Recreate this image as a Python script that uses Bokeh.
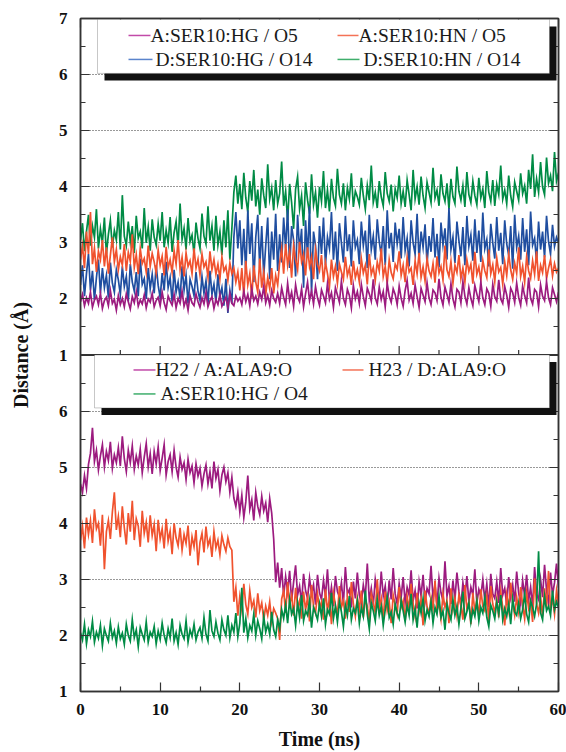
import numpy as np
from bokeh.plotting import figure
from bokeh.models import (Range1d, LinearAxis, FixedTicker, BoxAnnotation, Span,
                          Label, ColumnDataSource, CustomJSTickFormatter)
from bokeh.transform import dodge
from bokeh.embed import file_html
from bokeh.resources import INLINE

# ---------------- data (Å), sampled every 0.25 ns from 0 to 60 ns ----------------
time_ns = np.arange(241) * 0.25

# top panel
a_ser10_hg_o5 = [
    1.95, 2.08, 1.88, 2.02, 1.92, 2.12, 1.85, 1.98, 2.05, 1.90, 2.10, 1.83, 1.97, 2.03, 1.88, 2.15, 1.92, 1.99, 1.80, 2.06,
    1.90, 2.01, 1.86, 2.09, 1.95, 1.82, 2.04, 1.93, 2.13, 1.87, 1.98, 1.91, 2.07, 1.84, 2.00, 1.94, 2.10, 1.86, 1.97, 2.03,
    1.88, 2.12, 1.93, 1.81, 2.05, 1.96, 1.89, 2.08, 1.84, 2.01, 1.92, 2.14, 1.87, 1.99, 1.80, 2.06, 1.93, 1.88, 2.09, 1.95,
    1.85, 2.02, 1.91, 2.11, 1.86, 1.97, 2.04, 1.83, 1.99, 1.90, 2.08, 1.87, 1.95, 2.03, 1.84, 2.10, 1.92, 1.88, 2.05, 1.96,
    2.02, 1.90, 2.14, 1.95, 2.08, 1.88, 2.18, 1.97, 2.05, 1.91, 2.12, 1.99, 2.22, 1.93, 2.06, 1.89, 2.15, 2.01, 1.94, 2.10,
    1.92, 2.20, 2.03, 1.90, 2.28, 1.98, 2.12, 1.87, 2.25, 2.04, 1.95, 2.18, 1.86, 2.09, 2.30, 1.97, 2.14, 1.91, 2.22, 2.02,
    1.89, 2.16, 2.05, 1.93, 2.27, 1.99, 2.11, 1.85, 2.20, 2.07, 1.94, 2.32, 2.01, 1.90, 2.17, 2.06, 1.84, 2.24, 2.00, 2.13,
    1.92, 2.26, 2.04, 1.88, 2.19, 2.09, 1.96, 2.35, 2.02, 1.91, 2.21, 1.99, 2.13, 1.86, 2.28, 2.05, 1.94, 2.18, 2.08, 1.90,
    2.23, 2.01, 1.87, 2.15, 2.33, 1.98, 2.10, 1.92, 2.25, 2.04, 1.85, 2.19, 2.07, 1.95, 2.29, 2.02, 1.90, 2.16, 2.11, 1.97,
    2.36, 2.03, 1.89, 2.21, 2.08, 1.94, 2.27, 2.00, 1.86, 2.17, 2.12, 1.93, 2.31, 2.05, 1.91, 2.20, 2.01, 1.88, 2.24, 2.09,
    1.95, 2.30, 2.02, 1.90, 2.18, 2.10, 1.87, 2.26, 2.04, 1.96, 2.34, 2.00, 1.92, 2.22, 2.07, 1.85, 2.19, 2.11, 1.94, 2.28,
    2.03, 1.89, 2.23, 2.06, 1.93, 2.38, 2.01, 1.91, 2.17, 2.12, 1.86, 2.25, 2.05, 1.97, 2.31, 2.02, 1.90, 2.20, 2.08, 1.95,
    2.12]

a_ser10_hn_o5 = [
    2.70, 2.95, 2.55, 3.20, 2.80, 3.55, 2.62, 2.90, 2.48, 2.85, 2.70, 3.05, 2.58, 2.92, 2.45, 2.78, 3.10, 2.66, 2.88, 2.52,
    2.75, 2.60, 2.98, 2.50, 2.83, 2.67, 3.15, 2.56, 2.79, 2.44, 2.90, 2.63, 2.72, 2.48, 2.95, 2.58, 2.81, 2.66, 2.46, 2.87,
    2.60, 2.76, 2.42, 2.93, 2.55, 2.70, 2.47, 2.86, 2.62, 3.05, 2.52, 2.74, 2.40, 2.82, 2.58, 2.68, 2.45, 2.90, 2.55, 2.71,
    2.43, 2.80, 2.57, 2.66, 2.39, 2.85, 2.52, 2.70, 2.44, 2.62, 2.36, 2.75, 2.50, 2.58, 2.33, 2.64, 2.45, 2.55, 2.30, 2.48,
    2.15, 2.55, 2.05, 2.68, 2.25, 2.45, 2.02, 2.60, 2.30, 2.12, 2.72, 2.20, 2.48, 2.08, 2.38, 2.18, 2.55, 2.10, 2.42, 2.25,
    2.65, 2.90, 2.45, 2.98, 2.60, 2.85, 2.38, 2.95, 2.70, 2.52, 3.02, 2.66, 2.80, 2.42, 2.92, 2.58, 2.75, 2.35, 2.88, 2.62,
    2.50, 2.78, 2.30, 2.65, 2.45, 2.22, 2.70, 2.40, 2.58, 2.28, 2.62, 2.48, 2.35, 2.75, 2.42, 2.55, 2.25, 2.68, 2.38, 2.52,
    2.30, 2.72, 2.46, 2.60, 2.26, 2.80, 2.44, 2.56, 2.33, 2.66, 2.50, 2.90, 2.40, 2.58, 2.28, 2.70, 2.47, 2.36, 2.62, 2.53,
    2.85, 2.42, 2.60, 2.30, 2.74, 2.48, 2.55, 2.25, 2.68, 2.45, 2.82, 2.38, 2.57, 2.32, 2.72, 2.50, 2.40, 2.63, 2.29, 2.76,
    2.46, 2.58, 2.34, 2.95, 2.52, 2.40, 2.67, 2.28, 2.60, 2.47, 2.78, 2.36, 2.55, 2.30, 2.70, 2.49, 2.62, 2.27, 2.84, 2.44,
    2.57, 2.33, 2.69, 2.50, 2.38, 2.88, 2.45, 2.61, 2.31, 2.73, 2.48, 2.56, 2.26, 2.66, 2.42, 2.80, 2.52, 2.35, 2.64, 2.46,
    2.92, 2.40, 2.58, 2.30, 2.75, 2.50, 2.37, 2.68, 2.44, 2.85, 2.32, 2.60, 2.47, 2.78, 2.36, 2.55, 2.70, 2.41, 2.63, 2.48,
    2.55]

d_ser10_hg_o14 = [
    2.25, 2.60, 2.05, 2.45, 2.80, 2.15, 2.50, 1.98, 2.38, 2.70, 2.10, 2.55, 2.20, 2.42, 2.02, 2.65, 2.28, 2.12, 2.52, 2.34,
    2.08, 2.58, 2.22, 2.40, 1.96, 2.62, 2.30, 2.14, 2.48, 2.05, 2.72, 2.26, 2.36, 2.00, 2.55, 2.18, 2.44, 2.10, 2.60, 2.24,
    2.02, 2.46, 2.15, 2.66, 2.20, 2.38, 1.95, 2.52, 2.12, 2.30, 2.00, 2.58, 2.16, 2.42, 1.92, 2.35, 2.22, 2.06, 2.48, 2.14,
    1.98, 2.40, 2.10, 2.32, 1.90, 2.50, 2.08, 2.26, 1.94, 2.44, 2.04, 2.20, 1.88, 2.36, 1.75, 2.15, 1.92, 3.10, 3.55, 2.90,
    3.40, 2.60, 3.25, 2.45, 3.58, 2.80, 3.35, 2.30, 3.10, 3.50, 2.55, 3.30, 2.40, 2.95, 3.45, 2.35, 3.20, 2.70, 3.52, 2.50,
    3.15, 2.65, 3.45, 2.90, 3.60, 2.55, 3.30, 3.05, 2.40, 3.50, 2.85, 3.25, 2.20, 3.40, 2.75, 3.65, 2.10, 3.20, 2.95, 2.35,
    3.30, 2.80, 3.45, 2.60, 3.10, 2.90, 3.55, 2.70, 3.20, 2.50, 3.35, 3.00, 2.65, 3.48, 2.85, 3.15, 2.58, 3.40, 2.92, 3.05,
    2.62, 3.38, 2.95, 3.22, 2.55, 3.50, 2.88, 3.12, 2.70, 3.42, 3.02, 2.78, 3.30, 2.60, 3.58, 2.90, 3.18, 2.66, 3.36, 2.98,
    3.25, 2.72, 3.46, 2.86, 3.08, 2.58, 3.40, 3.00, 2.80, 3.52, 2.68, 3.20, 2.92, 3.33, 2.62, 3.12, 2.84, 3.44, 2.74, 3.16,
    2.56, 3.36, 2.96, 3.26, 2.70, 3.62, 2.88, 3.10, 2.64, 3.38, 3.04, 2.76, 3.28, 2.60, 3.48, 2.94, 3.14, 2.68, 3.42, 2.82,
    3.22, 2.66, 3.54, 2.90, 3.06, 2.58, 3.34, 3.00, 2.72, 3.46, 2.86, 3.18, 2.62, 3.40, 2.98, 2.78, 3.30, 2.54, 3.50, 2.92,
    3.12, 2.70, 3.44, 2.84, 3.24, 2.60, 3.56, 2.96, 3.08, 2.66, 3.38, 2.88, 3.20, 2.74, 3.48, 3.02, 2.80, 3.32, 2.94, 3.10,
    3.00]

d_ser10_hn_o14 = [
    3.05, 3.35, 2.85, 3.20, 3.50, 2.95, 3.30, 3.10, 3.60, 2.90, 3.25, 3.00, 3.45, 2.80, 3.15, 3.40, 2.92, 3.22, 3.05, 3.55,
    2.88, 3.85, 3.12, 2.95, 3.38, 3.02, 3.30, 2.82, 3.48, 3.08, 3.20, 2.90, 3.62, 3.00, 3.28, 2.86, 3.42, 3.10, 2.96, 3.34,
    3.04, 3.55, 2.92, 3.22, 3.00, 3.46, 2.84, 3.18, 3.38, 2.94, 3.70, 3.06, 3.26, 2.88, 3.44, 3.02, 3.14, 2.80, 3.36, 3.08,
    2.90, 3.52, 3.12, 2.98, 3.65, 3.04, 3.30, 2.86, 3.48, 2.96, 3.20, 2.78, 3.40, 2.92, 3.58, 2.70, 3.25, 3.90, 4.20, 3.70,
    4.05, 3.60, 4.25, 3.80, 3.55, 4.10, 3.75, 4.30, 3.65, 3.95, 3.50, 4.15, 3.85, 3.62, 4.40, 3.78, 3.98, 3.58, 4.12, 3.70,
    3.88, 4.45, 3.66, 3.92, 3.40, 4.05, 3.72, 3.25, 3.96, 4.18, 3.60, 3.84, 3.30, 4.08, 3.76, 3.52, 4.22, 3.68, 3.90, 3.45,
    4.00, 3.74, 4.28, 3.62, 3.94, 3.56, 4.14, 3.80, 3.66, 4.32, 3.86, 3.70, 4.06, 3.58, 3.98, 3.78, 4.24, 3.64, 3.92, 3.82,
    3.68, 4.16, 3.84, 3.60, 4.02, 3.76, 4.38, 3.72, 3.90, 3.62, 4.10, 3.82, 3.66, 4.26, 3.88, 3.74, 4.04, 3.56, 3.96, 3.80,
    4.20, 3.70, 3.92, 3.64, 4.12, 3.86, 3.58, 4.30, 3.78, 4.00, 3.68, 4.18, 3.84, 3.62, 4.08, 3.90, 3.72, 4.34, 3.80, 3.94,
    3.66, 4.22, 3.88, 3.74, 4.06, 3.60, 4.14, 3.82, 3.70, 4.36, 3.92, 3.76, 4.02, 3.64, 4.26, 3.86, 3.72, 4.10, 3.84, 3.68,
    4.16, 3.80, 3.96, 3.62, 4.28, 3.90, 3.74, 4.12, 3.66, 4.04, 3.86, 4.38, 3.78, 3.94, 3.70, 4.20, 3.84, 3.64, 4.08, 3.92,
    3.76, 4.24, 3.88, 4.02, 3.70, 4.30, 3.96, 4.58, 3.82, 4.14, 3.90, 4.44, 4.00, 3.86, 4.52, 4.06, 4.20, 3.92, 4.62, 4.10,
    4.25]

# bottom panel
h22_a_ala9_o = [
    4.70, 4.55, 4.85, 4.62, 5.05, 5.25, 5.70, 5.10, 5.30, 4.95, 5.20, 5.40, 5.00, 5.28, 5.12, 5.45, 4.98, 5.22, 5.08, 5.35,
    5.02, 5.55, 5.15, 4.92, 5.30, 5.08, 5.38, 4.96, 5.20, 5.04, 5.32, 4.90, 5.18, 5.42, 5.00, 5.24, 4.88, 5.28, 5.06, 5.36,
    4.94, 5.16, 5.40, 4.86, 5.10, 5.22, 4.92, 5.30, 5.00, 4.82, 5.18, 4.96, 5.08, 4.78, 5.14, 4.90, 5.02, 4.72, 5.06, 4.84,
    4.98, 4.66, 4.88, 5.04, 4.70, 4.92, 4.62, 5.10, 4.80, 4.96, 4.58, 4.86, 5.00, 4.74, 4.90, 4.55, 4.82, 4.45, 4.30, 4.55,
    4.20, 4.50, 4.10, 4.38, 4.85, 4.25, 4.42, 4.05, 4.55, 4.30, 4.15, 4.48, 4.22, 4.36, 4.02, 4.44, 4.18, 3.72, 2.95, 3.30,
    2.85, 3.20, 2.70, 3.05, 2.78, 3.15, 2.62, 2.95, 3.25, 2.72, 2.88, 2.58, 3.10, 2.80, 2.66, 3.02, 2.74, 2.90, 2.55, 3.08,
    2.76, 2.64, 2.98, 2.70, 3.18, 2.60, 2.86, 2.52, 3.06, 2.78, 2.68, 2.94, 2.56, 3.22, 2.74, 2.82, 2.50, 2.96, 2.66, 3.12,
    2.72, 2.58, 2.90, 2.68, 3.28, 2.62, 2.84, 2.54, 3.00, 2.76, 2.60, 3.14, 2.70, 2.88, 2.50, 2.98, 2.64, 3.20, 2.74, 2.56,
    2.92, 2.68, 3.04, 2.58, 2.86, 2.72, 3.16, 2.62, 2.80, 2.48, 2.96, 2.70, 3.08, 2.60, 2.84, 2.74, 3.24, 2.66, 2.90, 2.54,
    3.02, 2.76, 2.62, 3.32, 2.70, 2.88, 2.56, 2.98, 2.64, 3.12, 2.78, 2.52, 2.94, 2.68, 3.06, 2.60, 2.86, 2.72, 3.18, 2.58,
    2.82, 2.70, 3.00, 2.62, 2.92, 2.50, 3.10, 2.74, 2.66, 2.96, 2.58, 3.20, 2.72, 2.84, 2.54, 3.04, 2.68, 2.90, 2.60, 3.14,
    2.76, 2.56, 2.98, 2.70, 3.08, 2.62, 2.86, 2.52, 3.22, 2.74, 2.64, 3.00, 2.68, 3.26, 2.80, 2.58, 3.12, 2.72, 2.94, 3.28,
    2.85]

h23_d_ala9_o = [
    3.70, 3.95, 3.55, 4.10, 3.80, 4.05, 3.65, 4.25, 3.90, 4.00, 3.60, 4.15, 3.18, 3.85, 4.05, 3.72, 4.20, 4.55, 3.88, 4.12,
    3.75, 4.30, 3.92, 3.62, 4.18, 3.85, 4.40, 3.70, 4.08, 3.95, 3.58, 4.22, 3.82, 4.02, 3.66, 4.14, 3.78, 3.98, 3.50, 4.06,
    3.72, 3.90, 3.55, 4.08, 3.68, 3.86, 3.45, 4.00, 3.74, 3.60, 3.92, 3.52, 3.80, 3.64, 3.96, 3.42, 3.76, 3.58, 3.88, 3.25,
    3.66, 3.82, 3.48, 3.94, 3.60, 3.72, 3.40, 3.85, 3.56, 3.70, 3.44, 3.78, 3.62, 3.50, 3.74, 3.58, 3.52, 2.60, 2.85, 2.35,
    2.70, 2.45, 2.92, 2.55, 2.38, 2.80, 2.50, 2.62, 2.32, 2.75, 2.44, 2.58, 2.28, 2.52, 2.36, 2.60, 2.25, 2.48, 2.40, 2.30,
    1.92, 2.65, 2.80, 2.40, 2.95, 2.55, 2.72, 2.35, 2.85, 2.50, 2.62, 2.30, 2.78, 2.45, 2.68, 2.25, 2.90, 2.52, 2.40, 2.74,
    2.48, 2.60, 2.28, 2.82, 2.44, 2.66, 2.20, 2.76, 2.54, 2.36, 2.88, 2.50, 2.62, 2.30, 2.70, 2.42, 2.95, 2.56, 2.34, 2.68,
    2.46, 2.80, 2.32, 2.64, 2.52, 2.24, 2.74, 2.58, 2.40, 3.00, 2.48, 2.66, 2.28, 2.78, 2.44, 2.60, 2.22, 2.72, 2.54, 2.38,
    2.86, 2.50, 2.62, 2.26, 2.70, 2.46, 2.92, 2.56, 2.34, 2.76, 2.42, 2.64, 2.18, 2.80, 2.52, 2.38, 2.68, 2.48, 2.98, 2.44,
    2.58, 2.30, 2.74, 2.50, 2.62, 2.22, 2.84, 2.46, 2.66, 2.36, 2.72, 2.54, 2.28, 2.90, 2.48, 2.60, 2.20, 2.76, 2.42, 2.64,
    2.34, 2.82, 2.52, 2.44, 2.70, 2.26, 2.88, 2.56, 2.40, 2.66, 2.32, 2.78, 2.50, 2.18, 2.72, 2.46, 2.94, 2.58, 2.36, 2.68,
    2.42, 2.86, 2.54, 2.30, 2.76, 2.48, 2.62, 2.24, 3.02, 2.56, 2.40, 2.70, 2.34, 2.84, 2.50, 3.15, 2.46, 2.66, 2.38, 2.80,
    2.55]

a_ser10_hg_o4 = [
    2.05, 1.92, 2.20, 1.85, 2.10, 1.98, 2.25, 1.88, 2.06, 1.95, 2.18, 1.82, 2.12, 2.00, 1.90, 2.22, 1.96, 2.08, 1.86, 2.15,
    1.94, 2.04, 1.84, 2.20, 2.00, 1.90, 2.28, 1.96, 2.10, 1.80, 2.14, 2.02, 1.92, 2.24, 1.88, 2.06, 1.98, 2.16, 1.85, 2.08,
    1.93, 2.22, 2.00, 1.87, 2.12, 1.96, 2.30, 1.90, 2.05, 1.84, 2.18, 2.02, 1.94, 2.26, 1.88, 2.10, 1.98, 2.20, 1.92, 2.06,
    2.14, 1.95, 2.32, 2.02, 1.90, 2.45, 2.08, 1.98, 2.24, 2.04, 1.92, 2.28, 2.10, 2.00, 2.36, 1.96, 2.18, 2.06, 2.40, 1.98,
    2.22, 2.85, 2.05, 2.30, 1.96, 2.18, 2.08, 2.38, 2.00, 2.26, 2.12, 1.94, 2.34, 2.06, 2.20, 2.02, 2.42, 2.10, 1.98, 2.28,
    2.12, 2.46, 2.30, 2.55, 2.22, 2.64, 2.38, 2.48, 2.18, 2.58, 2.32, 2.72, 2.26, 2.44, 2.36, 2.62, 2.14, 2.50, 2.40, 2.28,
    2.56, 2.34, 2.66, 2.20, 2.46, 2.38, 2.76, 2.30, 2.52, 2.24, 2.60, 2.42, 2.16, 2.54, 2.36, 2.70, 2.28, 2.48, 2.40, 2.62,
    2.22, 2.50, 2.34, 2.80, 2.38, 2.12, 2.58, 2.44, 2.26, 2.64, 2.36, 2.52, 2.18, 2.46, 2.68, 2.32, 2.42, 2.20, 2.56, 2.40,
    2.30, 2.62, 2.44, 2.24, 2.54, 2.36, 2.74, 2.28, 2.48, 2.14, 2.58, 2.40, 2.66, 2.26, 2.46, 2.34, 2.60, 2.22, 2.50, 2.38,
    2.70, 2.32, 2.44, 2.10, 2.56, 2.40, 2.28, 2.64, 2.36, 2.52, 2.20, 2.48, 2.78, 2.30, 2.42, 2.58, 2.24, 2.46, 2.34, 2.62,
    2.26, 2.50, 2.40, 2.68, 2.32, 2.16, 2.54, 2.44, 2.30, 2.60, 2.38, 2.72, 2.28, 2.48, 2.34, 2.56, 2.20, 2.66, 2.42, 2.36,
    2.58, 2.30, 2.46, 2.74, 2.38, 2.24, 2.62, 2.50, 2.34, 2.56, 3.50, 2.40, 2.28, 2.70, 2.44, 2.52, 2.36, 2.80, 2.46, 2.60,
    2.50]

top_labels = ["A:SER10:HG / O5", "A:SER10:HN / O5", "D:SER10:HG / O14", "D:SER10:HN / O14"]
bottom_labels = ["H22 / A:ALA9:O", "H23 / D:ALA9:O", "A:SER10:HG / O4"]
x_major = [0, 10, 20, 30, 40, 50, 60]
x_minor = [5, 15, 25, 35, 45, 55]
y_tick_values = [1, 2, 3, 4, 5, 6, 7]

# ---------------- styling ----------------
PURPLE, ORANGE, BLUE, GREEN = "#9c1b7f", "#f0522e", "#1f4ea0", "#008b45"
KEY = {PURPLE: "#c24aa8", ORANGE: "#f47256", BLUE: "#5a84cc", GREEN: "#3fae6c"}
SERIF = "Liberation Serif"
OFFSET = 6  # the upper panel is stacked 6 units above the lower one

W, H = 566, 752
L, R, T, B = 80, 558, 18, 692          # plot frame in pixels


def xs(px):
    return (px - L) * 60.0 / (R - L)


def ys(py):
    return 13.0 - (py - T) * 12.0 / (B - T)


p = figure(width=W, height=H, x_range=Range1d(0, 60), y_range=Range1d(1, 13),
           output_backend="svg", toolbar_location=None,
           min_border_left=L, min_border_right=W - R, min_border_top=T,
           min_border_bottom=H - B,
           x_axis_label="Time (ns)", y_axis_label="Distance (Å)")
p.background_fill_color = "white"
p.border_fill_color = "white"
p.outline_line_color = "#333333"
p.outline_line_width = 1.5

# ticks
all_y = [v for v in y_tick_values[:-1]] + [v + OFFSET for v in y_tick_values]
y_minor = [v + 0.5 for v in range(1, 13)]
yticker = FixedTicker(ticks=all_y, minor_ticks=y_minor)
xticker = FixedTicker(ticks=x_major, minor_ticks=x_minor)
overrides = {v + OFFSET: str(v) for v in y_tick_values}

blank = CustomJSTickFormatter(code="return ''")


def style_axis(ax, labels=True):
    ax.axis_line_color = "#333333"
    ax.axis_line_width = 1.5
    ax.major_tick_line_color = "#333333"
    ax.minor_tick_line_color = "#333333"
    ax.major_tick_in = 9
    ax.major_tick_out = 0
    ax.minor_tick_in = 5
    ax.minor_tick_out = 0
    ax.major_tick_line_width = 1.2
    ax.minor_tick_line_width = 1.2
    ax.major_label_text_font = SERIF
    ax.major_label_text_font_style = "bold"
    ax.major_label_text_font_size = "17px"
    ax.major_label_text_color = "#111111"
    ax.axis_label_text_font = SERIF
    ax.axis_label_text_font_style = "bold"
    ax.axis_label_text_font_size = "20px"
    ax.axis_label_text_color = "#111111"
    if not labels:
        ax.formatter = blank
        ax.major_label_standoff = 0


xa = p.xaxis[0]
ya = p.yaxis[0]
xa.ticker = xticker
ya.ticker = yticker
ya.major_label_overrides = overrides
style_axis(xa)
style_axis(ya)
xa.major_label_standoff = 12
xa.axis_label_standoff = 10
ya.major_label_standoff = 13
ya.axis_label_standoff = 24

top_ax = LinearAxis(ticker=xticker)
style_axis(top_ax, labels=False)
p.add_layout(top_ax, "above")
right_ax = LinearAxis(ticker=yticker)
style_axis(right_ax, labels=False)
p.add_layout(right_ax, "right")

p.xgrid.visible = False
p.ygrid.ticker = FixedTicker(ticks=[v for v in all_y if v not in (1, 7, 13)])
p.ygrid.grid_line_color = "#333333"
p.ygrid.grid_line_dash = "1 2"
p.ygrid.grid_line_width = 1

# ---------------- series ----------------
def add_series(vals, color, offset):
    src = ColumnDataSource(dict(t=time_ns, d=vals))
    p.line(x="t", y=dodge("d", offset, range=p.y_range), source=src,
           line_color=color, line_width=1.7, line_join="miter")


# upper panel
add_series(d_ser10_hn_o14, GREEN, OFFSET)
add_series(d_ser10_hg_o14, BLUE, OFFSET)
add_series(a_ser10_hn_o5, ORANGE, OFFSET)
add_series(a_ser10_hg_o5, PURPLE, OFFSET)
# lower panel
add_series(h22_a_ala9_o, PURPLE, 0)
add_series(h23_d_ala9_o, ORANGE, 0)
add_series(a_ser10_hg_o4, GREEN, 0)

# boundary between panels
p.add_layout(Span(location=1 + OFFSET, dimension="width", line_color="#333333",
                  line_width=2))
p.scatter(x=x_major[1:-1], y=[1 + OFFSET] * (len(x_major) - 2), marker="dash",
          angle=np.pi / 2, size=18, line_color="#333333", line_width=1.2)
p.scatter(x=x_minor, y=[1 + OFFSET] * len(x_minor), marker="dash",
          angle=np.pi / 2, size=10, line_color="#333333", line_width=1.2)


# ---------------- legends with drop shadow ----------------
def legend_box(x0, y0, x1, y1, entries, sh=7):
    p.add_layout(BoxAnnotation(left=xs(x0 + sh), right=xs(x1 + sh), top=ys(y0 + sh),
                               bottom=ys(y1 + sh), fill_color="#111111", fill_alpha=1,
                               line_color=None))
    p.add_layout(BoxAnnotation(left=xs(x0), right=xs(x1), top=ys(y0), bottom=ys(y1),
                               fill_color="white", fill_alpha=1, line_color="#444444",
                               line_width=1))
    for label, color, kx0, kx1, tx, ty in entries:
        r = p.segment(x0=[xs(kx0)], y0=[ys(ty)], x1=[xs(kx1)], y1=[ys(ty)],
                      line_color=KEY[color], line_width=1.5)
        r.level = "overlay"
        p.add_layout(Label(x=xs(tx), y=ys(ty), text=label, text_font=SERIF,
                           text_font_size="19.5px", text_color="#1a1a1a",
                           text_baseline="middle", text_align="left", level="overlay"))


legend_box(97, 19, 549, 73, [
    (top_labels[0], PURPLE, 128, 150, 150, 35),
    (top_labels[1], ORANGE, 337, 358, 358, 35),
    (top_labels[2], BLUE, 128, 152, 155, 59),
    (top_labels[3], GREEN, 337, 359, 363, 59),
])
legend_box(94, 355, 549, 408, [
    (bottom_labels[0], PURPLE, 133, 155, 155, 370),
    (bottom_labels[1], ORANGE, 342, 363, 368, 370),
    (bottom_labels[2], GREEN, 133, 155, 160, 394),
])

open("out.html", "w").write(file_html(p, INLINE))
